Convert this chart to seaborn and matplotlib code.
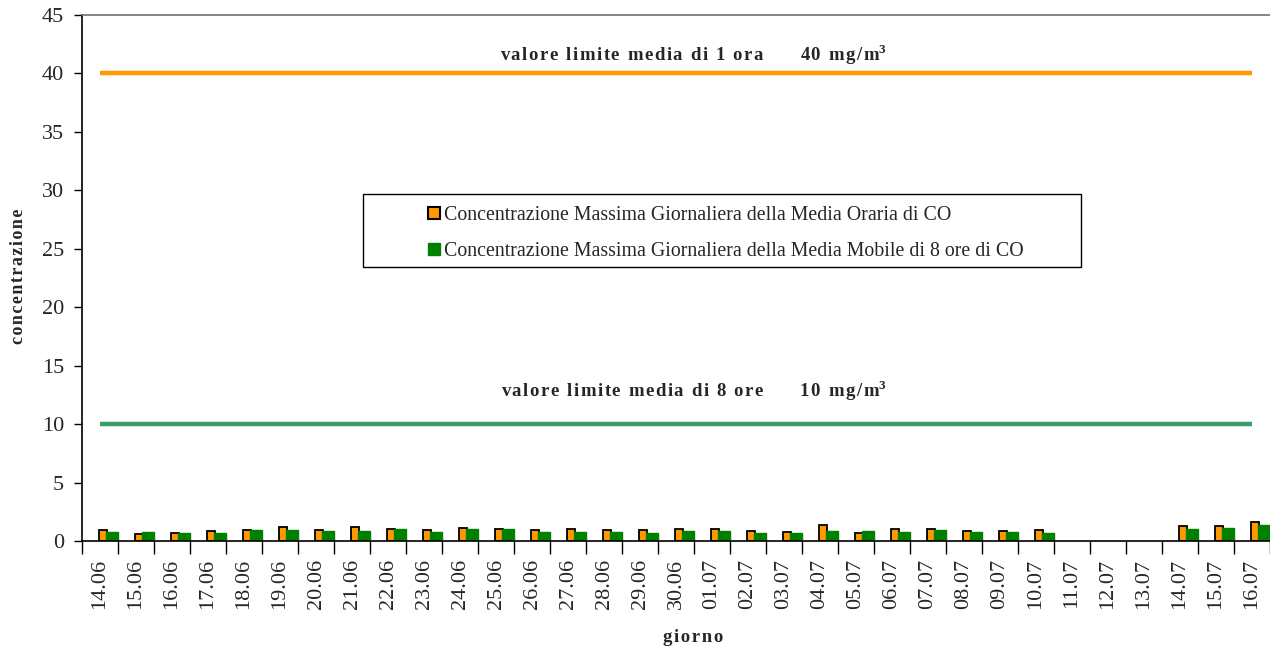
import numpy as np
import pandas as pd
import matplotlib
matplotlib.use("Agg")
import matplotlib.pyplot as plt
from matplotlib.patches import Rectangle
from matplotlib.transforms import blended_transform_factory
import seaborn as sns

# Giorni di misura
giorni = ["14.06", "15.06", "16.06", "17.06", "18.06", "19.06", "20.06", "21.06",
          "22.06", "23.06", "24.06", "25.06", "26.06", "27.06", "28.06", "29.06",
          "30.06", "01.07", "02.07", "03.07", "04.07", "05.07", "06.07", "07.07",
          "08.07", "09.07", "10.07", "11.07", "12.07", "13.07", "14.07", "15.07",
          "16.07"]

# Massimo giornaliero della media oraria di CO (mg/m3)
media_oraria = [0.94, 0.60, 0.71, 0.86, 0.91, 1.23, 0.91, 1.17, 1.03, 0.94, 1.11,
                1.00, 0.91, 1.06, 0.91, 0.97, 1.03, 1.00, 0.88, 0.74, 1.37, 0.68,
                1.03, 1.03, 0.83, 0.83, 0.91, np.nan, np.nan, np.nan, 1.31, 1.25,
                1.65]

# Massimo giornaliero della media mobile di 8 ore di CO (mg/m3)
media_mobile = [0.80, 0.80, 0.68, 0.71, 0.91, 0.91, 0.88, 0.86, 1.00, 0.80, 1.00,
                1.03, 0.77, 0.77, 0.74, 0.71, 0.86, 0.86, 0.71, 0.71, 0.86, 0.83,
                0.77, 0.97, 0.74, 0.74, 0.71, np.nan, np.nan, np.nan, 1.00, 1.11,
                1.37]

serie = ["Concentrazione Massima Giornaliera della Media Oraria di CO",
         "Concentrazione Massima Giornaliera della Media Mobile di 8 ore di CO"]

limite_1h = 40
limite_8h = 10

df = pd.DataFrame({
    "giorno": giorni * 2,
    "valore": media_oraria + media_mobile,
    "serie": [serie[0]] * len(giorni) + [serie[1]] * len(giorni),
})

sns.set_theme(style="white")
plt.rcParams["font.family"] = ["Liberation Serif", "DejaVu Serif"]
plt.rcParams["mathtext.fontset"] = "custom"
plt.rcParams["mathtext.rm"] = "Liberation Serif"
plt.rcParams["mathtext.bf"] = "Liberation Serif:bold"

ORANGE = "#FF9900"
GREEN = "#008000"


def spaced(s):
    """Slightly letter-spaced text using hair spaces."""
    return "\u200a".join(s)


fig = plt.figure(figsize=(12.7, 6.48), dpi=100)
ax = fig.add_axes([0.0646, 0.165, 0.9354, 0.812])

sns.barplot(data=df, x="giorno", y="valore", hue="serie", order=giorni,
            hue_order=serie, palette=[ORANGE, GREEN], width=0.5, dodge=True,
            ax=ax, legend=False, saturation=1)

# Orange bars: narrow, black outline; green bars: wider, green outline
for p in ax.containers[0]:
    p.set_x(p.get_x() + 0.22)
    p.set_width(0.22)
    p.set_edgecolor("black")
    p.set_linewidth(1.3)
for p in ax.containers[1]:
    p.set_x(p.get_x() + 0.17)
    p.set_width(0.32)
    p.set_edgecolor(GREEN)
    p.set_linewidth(1.0)

# Limit lines
ax.hlines(limite_1h, 0, len(giorni) - 1, color=ORANGE, lw=3.2, zorder=1)
ax.hlines(limite_8h, 0, len(giorni) - 1, color="#3A9A6A", lw=3.2, zorder=1)

tr = blended_transform_factory(ax.transAxes, ax.transData)
ax.text(0.515, limite_1h + 1.6,
        spaced("valore limite media di 1 ora") + "        " + spaced("40 mg/m")
        + "$^{\\mathbf{3}}$",
        transform=tr, ha="center", va="center", fontsize=13.5, fontweight="bold")
ax.text(0.515, limite_8h + 2.9,
        spaced("valore limite media di 8 ore") + "        " + spaced("10 mg/m")
        + "$^{\\mathbf{3}}$",
        transform=tr, ha="center", va="center", fontsize=13.5, fontweight="bold")

ax.set_xlim(-0.5, len(giorni) - 0.5)
ax.set_ylim(0, 45)
ax.set_yticks(range(0, 46, 5))
ax.tick_params(axis="y", which="major", direction="out", length=6, width=1,
               color="black", labelsize=16, left=True, pad=7)

ax.set_xticks(range(len(giorni)))
ax.set_xticklabels(giorni, rotation=90, fontsize=16)
ax.tick_params(axis="x", which="major", length=0, pad=13)
ax.set_xticks(np.arange(-0.5, len(giorni), 1), minor=True)
ax.tick_params(axis="x", which="minor", direction="out", length=9, width=1,
               color="black", bottom=True)

ax.set_xlabel("")
ax.set_ylabel("")
ax.grid(False)

for s in ["left", "bottom"]:
    ax.spines[s].set_color("black")
    ax.spines[s].set_linewidth(1.2)
ax.spines["top"].set_color("#707070")
ax.spines["top"].set_linewidth(1.2)
ax.spines["right"].set_visible(False)

fig.text(0.0145, 0.573, spaced("concentrazione"), rotation=90, ha="center",
         va="center", fontsize=13, fontweight="bold")
fig.text(0.546, 0.016, spaced("giorno"), ha="center", va="center", fontsize=13.5,
         fontweight="bold")

# Legend with its own frame
frame = Rectangle((0.2365, 0.521), 0.604, 0.139, transform=ax.transAxes,
                  facecolor="white", edgecolor="black", lw=1.0, zorder=3)
ax.add_patch(frame)
handles = [Rectangle((0, 0), 1, 1, facecolor=ORANGE, edgecolor="black", lw=1.5),
           Rectangle((0, 0), 1, 1, facecolor=GREEN, edgecolor=GREEN, lw=1.0)]
leg = ax.legend(handles, serie, loc="upper left", bbox_to_anchor=(0.2775, 0.667),
                frameon=False, fontsize=14.3, handlelength=0.6, handleheight=0.6,
                handletextpad=0.25, labelspacing=0.85, borderpad=0.3)
leg.set_zorder(4)

fig.savefig("out.png", dpi=100)
